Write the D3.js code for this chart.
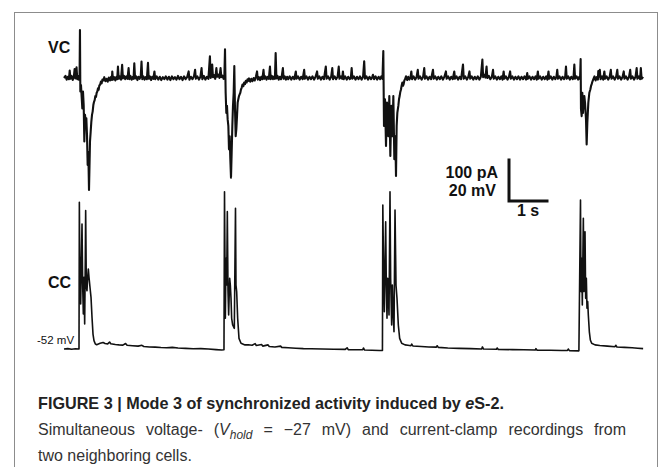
<!DOCTYPE html>
<html>
<head>
<meta charset="utf-8">
<script src="https://cdn.jsdelivr.net/npm/d3@7"></script>
<style>
  html, body { margin: 0; padding: 0; background: #fff; }
  svg { display: block; }
</style>
</head>
<body>
<svg id="chart" width="672" height="467"></svg>
<script>
// ---------------- DATA ----------------
// Voltage-clamp trace: [time (s), current (pA)], baseline = 0 pA
const vcTrace = [
  [0.00,0],[0.04,5],[0.07,-4],[0.10,3],[0.13,-3],[0.15,18],[0.17,-2],[0.20,5],[0.23,-5],[0.26,4],[0.28,22],[0.30,-1],[0.32,6],[0.33,26],[0.35,-3],[0.37,5],[0.39,-4],[0.41,3],
  [0.42,117],[0.43,-33],[0.447,-17],[0.465,-46],[0.482,-74],[0.50,-33],[0.518,-66],[0.535,-155],[0.553,-90],[0.57,-107],[0.588,-98],[0.605,-139],[0.623,-212],[0.64,-180],[0.658,-273],[0.675,-196],[0.684,-155],[0.702,-131],[0.719,-107],[0.737,-90],[0.754,-82],[0.772,-66],[0.79,-58],[0.807,-54],[0.825,-44],[0.842,-46],[0.86,-36],[0.877,-33],[0.895,-25],[0.912,-29],[0.93,-18],[0.947,-17],[0.97,-9],[0.991,-13],[1.01,-4],[1.035,-6],
  [1.06,2],[1.09,-8],[1.12,-2],[1.15,-9],[1.18,1],[1.21,-6],[1.24,3],[1.26,-5],[1.27,16],[1.29,-4],[1.32,2],[1.35,-6],[1.38,3],[1.40,-3],[1.42,28],[1.44,-2],[1.47,4],[1.50,-4],[1.53,32],[1.55,-1],[1.58,5],[1.61,-3],[1.64,4],[1.67,-2],[1.70,24],[1.72,-3],[1.75,5],[1.78,-4],[1.81,3],[1.83,-2],[1.85,36],[1.87,-1],[1.90,4],[1.93,-5],[1.96,3],[1.99,-2],[2.02,5],[2.04,40],[2.06,-3],[2.09,4],[2.12,-4],[2.15,2],[2.18,-3],[2.21,37],[2.23,-2],[2.26,4],[2.29,-5],[2.32,3],[2.35,-2],[2.38,16],[2.40,-3],[2.44,4],[2.48,-4],[2.52,3],[2.56,-5],[2.60,2],[2.64,-3],[2.68,4],[2.72,-4],[2.76,3],[2.80,-5],[2.84,4],[2.88,-3],[2.92,2],[2.96,-4],[3.00,5],[3.04,-3],[3.08,3],[3.12,-5],[3.16,4],[3.20,-3],[3.24,2],[3.28,16],[3.30,-4],[3.34,3],[3.38,-3],[3.42,4],[3.45,20],[3.47,-2],[3.51,4],[3.55,-4],[3.59,3],[3.62,24],[3.64,-3],[3.68,5],[3.72,-4],[3.76,3],[3.80,-2],[3.84,53],[3.86,0],[3.88,6],[3.90,33],[3.92,2],[3.95,7],[3.98,-2],[4.01,24],[4.03,3],[4.06,8],[4.09,0],[4.12,24],[4.14,2],[4.17,6],[4.20,-2],[4.22,3],
  [4.237,70],[4.254,-36],[4.272,-85],[4.289,-68],[4.307,-101],[4.325,-117],[4.342,-174],[4.36,-142],[4.377,-198],[4.395,-243],[4.412,-182],[4.43,-117],[4.447,-68],[4.465,-36],[4.482,29],[4.50,-76],[4.518,-142],[4.535,-125],[4.553,-93],[4.57,-60],[4.587,-52],[4.605,-44],[4.622,-40],[4.64,-36],[4.657,-28],[4.675,-24],[4.697,-16],[4.719,-20],[4.741,-11],[4.763,-15],[4.785,-7],[4.807,-11],[4.83,-3],[4.851,-7],
  [4.87,-1],[4.90,-9],[4.93,-2],[4.96,-8],[4.99,0],[5.02,-6],[5.05,3],[5.08,16],[5.10,-4],[5.13,2],[5.16,-5],[5.19,3],[5.22,-3],[5.25,20],[5.27,-2],[5.30,4],[5.33,-4],[5.36,3],[5.39,-2],[5.42,28],[5.44,-3],[5.47,5],[5.50,-3],[5.53,4],[5.55,-2],[5.57,61],[5.59,-1],[5.62,5],[5.65,-4],[5.68,3],[5.71,-3],[5.73,4],[5.76,24],[5.78,-2],[5.81,4],[5.84,-4],[5.87,3],[5.90,-3],[5.94,4],[5.98,-4],[6.02,3],[6.06,-3],[6.10,16],[6.12,-2],[6.16,4],[6.20,-4],[6.24,3],[6.28,-3],[6.32,20],[6.34,-2],[6.38,4],[6.42,-4],[6.46,3],[6.50,-3],[6.54,4],[6.58,-4],[6.62,3],[6.66,16],[6.68,-2],[6.72,4],[6.76,-4],[6.80,3],[6.84,-3],[6.89,28],[6.91,-2],[6.95,4],[6.99,-4],[7.03,3],[7.06,24],[7.08,-3],[7.12,4],[7.16,-3],[7.20,3],[7.23,28],[7.25,-2],[7.29,4],[7.32,-2],[7.34,16],[7.36,-3],[7.40,4],[7.44,-4],[7.48,3],[7.52,-3],[7.55,2],[7.57,24],[7.59,-2],[7.63,4],[7.67,-4],[7.71,3],[7.75,-3],[7.79,4],[7.83,-4],[7.87,3],[7.90,41],[7.92,-2],[7.96,4],[8.00,-4],[8.04,3],[8.08,-3],[8.11,2],[8.13,8],[8.16,-3],[8.20,4],[8.24,-4],[8.28,3],[8.32,-3],[8.35,4],[8.38,-2],
  [8.403,66],[8.421,-117],[8.447,-52],[8.474,-166],[8.50,-60],[8.535,-142],[8.561,-44],[8.588,-190],[8.614,-68],[8.64,-142],[8.667,-44],[8.693,-198],[8.719,-142],[8.737,-239],[8.754,-117],[8.772,-85],[8.798,-68],[8.816,-52],[8.833,-44],[8.85,-34],[8.868,-28],[8.886,-18],[8.904,-11],[8.921,-19],[8.939,-15],[8.956,-6],[8.974,-3],
  [9.00,4],[9.03,-5],[9.06,3],[9.09,-4],[9.12,2],[9.14,16],[9.16,-3],[9.20,4],[9.24,-4],[9.28,3],[9.31,20],[9.33,-2],[9.37,4],[9.41,-4],[9.45,3],[9.48,24],[9.50,-2],[9.54,4],[9.58,-4],[9.62,3],[9.66,-3],[9.71,20],[9.73,-2],[9.77,4],[9.81,-4],[9.85,3],[9.89,-3],[9.93,4],[9.97,-4],[10.01,3],[10.05,16],[10.07,-2],[10.11,4],[10.15,-4],[10.19,3],[10.23,-3],[10.27,16],[10.29,-2],[10.33,4],[10.37,-4],[10.41,3],[10.45,-3],[10.50,33],[10.52,-2],[10.56,4],[10.60,-4],[10.64,3],[10.67,16],[10.69,-2],[10.73,4],[10.77,-4],[10.81,3],[10.85,-3],[10.89,4],[10.93,-4],[10.97,3],[11.01,45],[11.03,2],[11.06,8],[11.09,1],[11.12,28],[11.14,0],[11.18,5],[11.22,-3],[11.26,3],[11.29,20],[11.31,-2],[11.35,4],[11.39,-4],[11.43,3],[11.47,-3],[11.51,4],[11.54,-4],[11.57,16],[11.59,-2],[11.63,4],[11.67,-4],[11.71,3],[11.74,16],[11.76,-2],[11.80,4],[11.84,-4],[11.88,3],[11.92,-3],[11.96,4],[12.00,-4],[12.04,3],[12.08,-3],[12.12,4],[12.16,-4],[12.19,12],[12.21,-2],[12.25,4],[12.29,-4],[12.33,3],[12.37,-3],[12.41,4],[12.44,-4],[12.47,16],[12.49,-2],[12.53,4],[12.57,-4],[12.61,3],[12.65,-3],[12.69,4],[12.72,-4],[12.75,16],[12.77,-2],[12.81,4],[12.85,-4],[12.89,3],[12.93,-3],[12.96,4],[12.98,20],[13.00,-2],[13.04,4],[13.08,-4],[13.12,3],[13.16,-3],[13.19,4],[13.21,28],[13.23,-2],[13.27,4],[13.31,-4],[13.35,3],[13.39,-3],[13.41,4],[13.43,33],[13.45,-2],[13.49,4],[13.53,-4],[13.56,3],[13.58,-2],
  [13.596,46],[13.605,-76],[13.623,-93],[13.64,-36],[13.658,-85],[13.675,-60],[13.693,-44],[13.711,-60],[13.737,-101],[13.754,-162],[13.772,-109],[13.798,-60],[13.825,-36],[13.851,-28],[13.868,-20],[13.886,-15],[13.908,-8],[13.93,-3],
  [13.96,4],[13.99,-6],[14.02,2],[14.05,-4],[14.06,17],[14.08,3],[14.10,20],[14.12,-3],[14.16,4],[14.19,-4],[14.22,16],[14.24,-2],[14.28,4],[14.32,-4],[14.36,3],[14.39,20],[14.41,-2],[14.45,4],[14.49,-4],[14.53,3],[14.56,20],[14.58,-2],[14.62,4],[14.66,-4],[14.70,3],[14.73,16],[14.75,-2],[14.79,4],[14.83,-4],[14.87,3],[14.90,20],[14.92,-2],[14.96,4],[15.00,-4],[15.04,3],[15.07,24],[15.09,-2],[15.13,4],[15.16,-3],[15.18,24],[15.20,-2],[15.24,3]
];

// Current-clamp trace: [time (s), membrane potential (mV)], rest = -52 mV
const ccTrace = [
  [0.00,-52],[0.10,-51.8],[0.20,-52.1],[0.30,-51.9],[0.395,-52],
  [0.404,19.6],[0.421,-20.3],[0.43,-7.3],[0.439,-30],[0.456,-10.5],[0.474,9],[0.491,-20.3],[0.509,-34.9],[0.526,-17],[0.544,-39.8],[0.561,-7.3],[0.57,15.5],[0.588,-21.9],[0.605,-23.6],[0.623,-17],[0.64,-13],[0.658,-17],[0.684,-21.9],[0.711,-26.8],[0.737,-36.5],[0.763,-44.7],[0.789,-47.9],[0.825,-49.6],[0.86,-49.9],
  [0.95,-49.2],[1.03,-48.8],[1.08,-49.3],[1.15,-49.5],[1.20,-48.6],[1.23,-49.4],[1.35,-49.8],[1.45,-50],[1.55,-50.1],[1.62,-49.3],[1.66,-50.2],[1.80,-50.4],[1.95,-50.6],[2.05,-50.2],[2.10,-50.8],[2.25,-51],[2.40,-51.1],[2.55,-51.3],[2.70,-51.4],[2.85,-51.2],[3.00,-51.5],[3.20,-51.7],[3.40,-51.9],[3.60,-51.8],[3.80,-52],[4.00,-52.3],[4.15,-52.5],[4.21,-52.4],
  [4.224,24.7],[4.246,-37],[4.263,-7.8],[4.281,-20.8],[4.298,15],[4.316,-24],[4.333,-35.4],[4.36,-17.5],[4.377,-20.8],[4.395,-27.3],[4.412,-37],[4.439,-40.3],[4.482,-41.9],[4.513,16.6],[4.526,-20.8],[4.544,-24],[4.57,-37],[4.605,-46.8],[4.658,-49.2],[4.763,-50],
  [4.85,-49.9],[4.95,-50.2],[5.03,-49.4],[5.06,-50.3],[5.20,-49.8],[5.23,-50.6],[5.37,-50],[5.40,-50.8],[5.55,-51],[5.70,-50.6],[5.73,-51.2],[5.90,-51.4],[6.10,-51.6],[6.30,-51.8],[6.50,-51.9],[6.80,-52],[7.10,-52.1],[7.40,-52.2],[7.45,-51.4],[7.48,-52.3],[7.70,-52.4],[7.86,-52.4],[7.88,-51.5],[7.91,-52.5],[8.10,-52.6],[8.30,-52.7],[8.38,-52.7],
  [8.39,18.2],[8.412,-17.5],[8.43,-33.8],[8.447,-11],[8.465,10.1],[8.482,-20.8],[8.50,-37],[8.518,-17.5],[8.535,-24],[8.553,-35.4],[8.579,24.7],[8.596,-17.5],[8.623,-40.3],[8.64,-20.8],[8.658,-32.1],[8.684,-43.6],[8.711,15.8],[8.737,-20.8],[8.763,-27.3],[8.798,-40.3],[8.833,-46.8],[8.886,-49.2],[8.974,-50],
  [9.05,-50.2],[9.13,-50.4],[9.15,-49.6],[9.18,-50.5],[9.40,-50.8],[9.60,-51],[9.80,-51.1],[9.82,-50.4],[9.85,-51.2],[10.10,-51.5],[10.40,-51.7],[10.70,-51.8],[10.99,-52],[11.01,-51],[11.04,-52],[11.38,-52.1],[11.40,-51.5],[11.43,-52.2],[11.80,-52.3],[12.10,-52.4],[12.40,-52.5],[12.42,-51.8],[12.45,-52.6],[12.80,-52.6],[13.10,-52.7],[13.25,-52.7],[13.27,-52],[13.30,-52.8],[13.55,-52.9],
  [13.592,20.7],[13.605,-24],[13.623,-7.8],[13.64,-30.5],[13.667,11.8],[13.684,-24],[13.697,-7.8],[13.711,5.2],[13.728,-27.3],[13.746,-17.5],[13.763,-32.1],[13.781,-28.9],[13.798,-35.4],[13.825,-43.6],[13.851,-47.6],[13.886,-49.2],[13.974,-50],
  [14.10,-50.3],[14.30,-50.6],[14.50,-50.9],[14.52,-50.2],[14.55,-51],[14.75,-51.2],[14.95,-51.4],[15.10,-51.6],[15.24,-51.8]
];

const traceLabels = ["VC", "CC"];
const restingLabel = "-52 mV";
const scaleBarValues = { current: 100, voltage: 20, time: 1 };
const scaleBarLabels = ["100 pA", "20 mV", "1 s"];
const captionTitle = ["FIGURE 3 | Mode 3 of synchronized activity induced by ", "e", "S-2."];
const captionLine2 = ["Simultaneous voltage- (", "V", "hold", " = \u221227 mV) and current-clamp recordings from"];
const captionLine3 = "two neighboring cells.";

// ---------------- DRAW ----------------
const svg = d3.select("#chart");
const FONT = "'Liberation Sans', Arial, Helvetica, sans-serif";

// frame
svg.append("rect")
  .attr("x", 14.5).attr("y", 12.5)
  .attr("width", 643).attr("height", 470)
  .attr("fill", "none").attr("stroke", "#8c8c8c").attr("stroke-width", 1);

const x = d3.scaleLinear().domain([0, 15.3]).range([64, 64 + 15.3 * 38]);
const yVC = d3.scaleLinear().domain([0, 100]).range([78, 37]);
const yCC = d3.scaleLinear().domain([-52, -32]).range([349, 308]);

const lineVC = d3.line().x(d => x(d[0])).y(d => yVC(d[1]));
const lineCC = d3.line().x(d => x(d[0])).y(d => yCC(d[1]));

svg.append("path").datum(vcTrace)
  .attr("d", lineVC).attr("fill", "none")
  .attr("stroke", "#111").attr("stroke-width", 2.1).attr("stroke-linejoin", "round");

svg.append("path").datum(ccTrace)
  .attr("d", lineCC).attr("fill", "none")
  .attr("stroke", "#111").attr("stroke-width", 1.6).attr("stroke-linejoin", "round");

// trace labels
svg.append("text").text(traceLabels[0])
  .attr("x", 48).attr("y", 53)
  .attr("font-family", FONT).attr("font-weight", "bold").attr("font-size", 16).attr("fill", "#111");
svg.append("text").text(traceLabels[1])
  .attr("x", 48).attr("y", 288)
  .attr("font-family", FONT).attr("font-weight", "bold").attr("font-size", 16).attr("fill", "#111");
svg.append("text").text(restingLabel)
  .attr("x", 37).attr("y", 344)
  .attr("font-family", FONT).attr("font-size", 11.5).attr("fill", "#111");

// scale bar
const sbX = 509, sbY = 201;
const vLen = yVC(0) - yVC(scaleBarValues.current);
const hLen = x(scaleBarValues.time) - x(0);
svg.append("path")
  .attr("d", `M${sbX},${sbY - vLen}V${sbY}H${sbX + hLen}`)
  .attr("fill", "none").attr("stroke", "#111").attr("stroke-width", 3).attr("stroke-linecap", "square");
svg.append("text").text(scaleBarLabels[0])
  .attr("x", 498).attr("y", 178).attr("text-anchor", "end")
  .attr("font-family", FONT).attr("font-weight", "bold").attr("font-size", 16).attr("fill", "#111");
svg.append("text").text(scaleBarLabels[1])
  .attr("x", 496).attr("y", 196).attr("text-anchor", "end")
  .attr("font-family", FONT).attr("font-weight", "bold").attr("font-size", 16).attr("fill", "#111");
svg.append("text").text(scaleBarLabels[2])
  .attr("x", sbX + hLen / 2).attr("y", 216).attr("text-anchor", "middle")
  .attr("font-family", FONT).attr("font-weight", "bold").attr("font-size", 16).attr("fill", "#111");

// caption
const t1 = svg.append("text")
  .attr("x", 38).attr("y", 409)
  .attr("font-family", FONT).attr("font-weight", "bold").attr("font-size", 16.2).attr("fill", "#222");
t1.append("tspan").text(captionTitle[0]);
t1.append("tspan").attr("font-style", "italic").text(captionTitle[1]);
t1.append("tspan").text(captionTitle[2]);

const t2 = svg.append("text")
  .attr("x", 38).attr("y", 435)
  .attr("font-family", FONT).attr("font-size", 16).attr("fill", "#333")
  .attr("word-spacing", 6.5);
t2.append("tspan").text(captionLine2[0]);
t2.append("tspan").attr("font-style", "italic").text(captionLine2[1]);
t2.append("tspan").attr("font-style", "italic").attr("font-size", 12).attr("dy", 4).text(captionLine2[2]);
t2.append("tspan").attr("dy", -4).text(captionLine2[3]);

svg.append("text").text(captionLine3)
  .attr("x", 38).attr("y", 461)
  .attr("font-family", FONT).attr("font-size", 16).attr("fill", "#333");
</script>
</body>
</html>
